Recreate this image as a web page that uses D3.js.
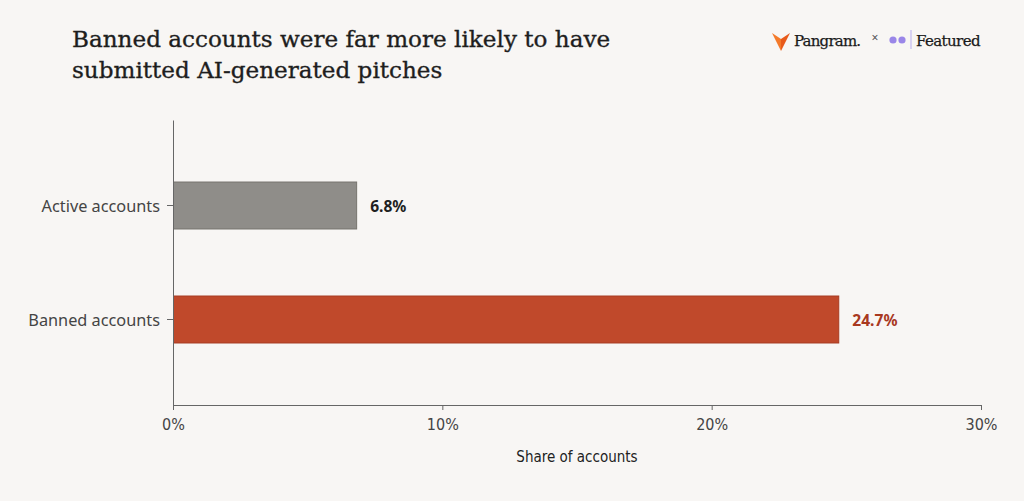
<!DOCTYPE html>
<html>
<head>
<meta charset="utf-8">
<script src="https://cdn.jsdelivr.net/npm/d3@7"></script>
<style>
  html, body { margin: 0; padding: 0; background: #f8f6f4; }
  svg { display: block; }
</style>
</head>
<body>
<svg id="chart"></svg>
<script>
// chart data
const categories = ['Active accounts', 'Banned accounts'];
const shares = [6.8, 24.7];
const xTicks = [0, 10, 20, 30];
const titleLines = ['Banned accounts were far more likely to have', 'submitted AI-generated pitches'];

const width = 1024, height = 501;
const margin = { top: 120, right: 43, bottom: 96, left: 173 };
const sans = "'Noto Sans', 'Open Sans', sans-serif";
const narrow = "'DejaVu Sans Condensed', 'Liberation Sans Narrow', 'Noto Sans', sans-serif";
const serif = "'DejaVu Serif', 'Liberation Serif', serif";

const barFill = ['#8f8d89', '#c0492b'];
const barStroke = ['#77746f', '#a63b22'];
const labelFill = ['#1f1f1f', '#a8391f'];

const svg = d3.select('#chart')
    .attr('width', width)
    .attr('height', height);

svg.append('rect')
    .attr('width', width)
    .attr('height', height)
    .attr('fill', '#f8f6f4');

// title
svg.append('text')
    .attr('x', 72)
    .attr('y', 47)
    .attr('font-family', serif)
    .attr('font-size', 23.1)
    .attr('fill', '#1e1e1e')
    .attr('stroke', '#1e1e1e')
    .attr('stroke-width', 0.35)
    .selectAll('tspan')
    .data(titleLines)
    .join('tspan')
    .attr('x', 72)
    .attr('dy', (d, i) => i === 0 ? 0 : 31)
    .text(d => d);

// logos, top right
const logo = svg.append('g');
logo.append('path')
    .attr('d', 'M772,33 L781,39 L781,51 Z')
    .attr('fill', '#f47a2a');
logo.append('path')
    .attr('d', 'M790,33 L781,39 L781,51 Z')
    .attr('fill', '#e85a1a');
logo.append('text')
    .attr('x', 794)
    .attr('y', 46)
    .attr('font-family', serif)
    .attr('font-size', 15)
    .attr('letter-spacing', -0.8)
    .attr('fill', '#1a1a1a')
    .attr('stroke', '#1a1a1a')
    .attr('stroke-width', 0.25)
    .text('Pangram.');
logo.append('text')
    .attr('x', 875)
    .attr('y', 42)
    .attr('text-anchor', 'middle')
    .attr('font-family', sans)
    .attr('font-size', 12)
    .attr('fill', '#555')
    .text('×');
logo.selectAll('circle.q')
    .data([893, 902])
    .join('circle')
    .attr('class', 'q')
    .attr('cx', d => d)
    .attr('cy', 40)
    .attr('r', 3.6)
    .attr('fill', '#9a86e8');
logo.append('line')
    .attr('x1', 911).attr('x2', 911)
    .attr('y1', 30).attr('y2', 49)
    .attr('stroke', '#b9aef0')
    .attr('stroke-width', 1);
logo.append('text')
    .attr('x', 916)
    .attr('y', 46)
    .attr('font-family', serif)
    .attr('font-size', 15)
    .attr('letter-spacing', -0.6)
    .attr('fill', '#1a1a1a')
    .attr('stroke', '#1a1a1a')
    .attr('stroke-width', 0.25)
    .text('Featured');

// scales
const x = d3.scaleLinear()
    .domain([0, 30])
    .range([margin.left, width - margin.right]);

const y = d3.scaleBand()
    .domain(categories)
    .range([margin.top, height - margin.bottom])
    .paddingInner(0.588)
    .paddingOuter(0.544);

// bars
svg.append('g')
    .selectAll('rect')
    .data(categories)
    .join('rect')
    .attr('x', x(0) + 0.5)
    .attr('y', d => y(d))
    .attr('width', (d, i) => x(shares[i]) - x(0))
    .attr('height', y.bandwidth())
    .attr('fill', (d, i) => barFill[i])
    .attr('stroke', (d, i) => barStroke[i])
    .attr('stroke-width', 1);

// value labels
svg.append('g')
    .selectAll('text')
    .data(categories)
    .join('text')
    .attr('x', (d, i) => x(shares[i]) + 14)
    .attr('y', d => y(d) + y.bandwidth() / 2)
    .attr('dominant-baseline', 'central')
    .attr('font-family', sans)
    .attr('font-size', 15.6)
    .attr('font-weight', 700)
    .attr('fill', (d, i) => labelFill[i])
    .text((d, i) => shares[i].toFixed(1) + '%');

// x axis
const xAxis = svg.append('g')
    .attr('transform', `translate(0,${height - margin.bottom})`)
    .call(d3.axisBottom(x).tickValues(xTicks).tickFormat(d => d + '%').tickSize(5).tickSizeOuter(0));
xAxis.select('.domain').attr('stroke', '#666');
xAxis.selectAll('.tick line').attr('stroke', '#666');
xAxis.selectAll('.tick text')
    .attr('dy', '1.05em')
    .attr('font-family', narrow)
    .attr('font-size', 16)
    .attr('fill', '#444');

// y axis
const yAxis = svg.append('g')
    .attr('transform', `translate(${margin.left},0)`)
    .call(d3.axisLeft(y).tickSize(6).tickSizeOuter(0).tickPadding(7));
yAxis.select('.domain').attr('stroke', '#666');
yAxis.selectAll('.tick line').attr('stroke', '#666');
yAxis.selectAll('.tick text')
    .attr('dy', '0.42em')
    .attr('font-family', sans)
    .attr('font-size', 16.3)
    .attr('fill', '#444');

// axis title
svg.append('text')
    .attr('x', (x.range()[0] + x.range()[1]) / 2)
    .attr('y', 462)
    .attr('text-anchor', 'middle')
    .attr('font-family', narrow)
    .attr('font-size', 15)
    .attr('fill', '#222')
    .text('Share of accounts');
</script>
</body>
</html>
